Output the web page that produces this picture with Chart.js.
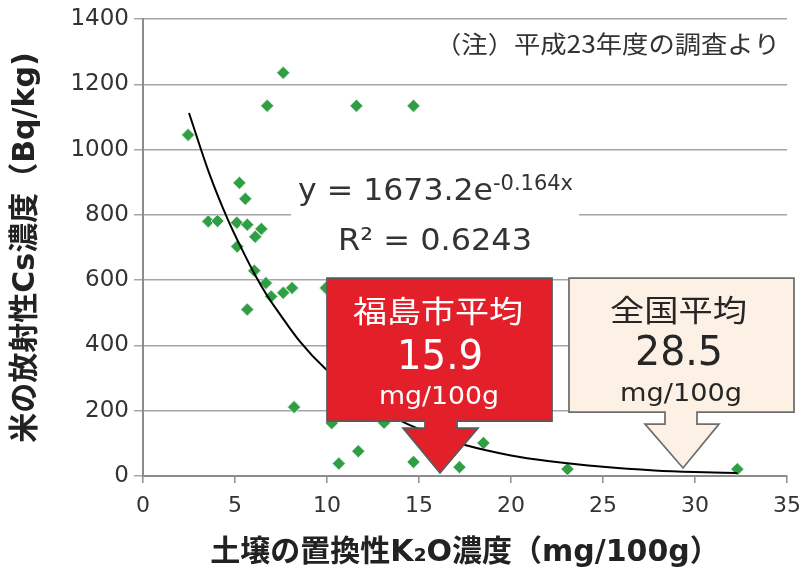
<!DOCTYPE html>
<html>
<head>
<meta charset="utf-8">
<script src="https://cdn.jsdelivr.net/npm/chart.js@4.4.0/dist/chart.umd.min.js"></script>
<style>
  html, body { margin: 0; padding: 0; background: #fff; }
  #wrap { width: 801px; height: 575px; }
</style>
</head>
<body>
<div id="wrap"><canvas id="myChart" width="801" height="575"></canvas></div>
<script>
// data
const potassium = [2.45, 3.55, 4.05, 5.1, 5.67, 5.24, 5.56, 6.1, 6.43, 5.12, 6.05, 6.68, 6.97, 7.62, 8.1,
  5.67, 7.62, 6.75, 11.6, 14.7, 9.94, 8.21, 10.26, 10.64, 11.7, 13.1, 14.7, 17.2, 18.5, 23.07, 32.3];
const cesium = [1045, 780, 781, 776, 770, 898, 849, 733, 757, 703, 629, 591, 550, 561, 576,
  510, 1235, 1134, 1134, 1134, 576, 211, 162, 38, 76, 163, 43, 27, 101, 21, 21];

// trend curve
const trendX = [2.5, 3.6, 4.6, 5.4, 6.1, 6.7, 7.4, 8.5, 9.9, 12, 13.9, 16, 17.5, 20, 22, 25, 27.8, 30, 32.3];
const trendY = [1112, 927, 787, 692, 615, 557, 499, 414, 329, 235, 172, 122, 95, 63, 46, 28, 17, 12, 9];

const xTicks = [0, 5, 10, 15, 20, 25, 30, 35];
const yTicks = [0, 200, 400, 600, 800, 1000, 1200, 1400];

const FONT = '"DejaVu Sans", "Noto Sans CJK JP", sans-serif';
const CJK = '"Noto Sans CJK JP", "DejaVu Sans", sans-serif';

// callout shapes (canvas pixels)
const callouts = [
  { fill: '#e31f2a', stroke: '#5a5a5a', color: '#ffffff',
    box: [327, 278, 552, 421], shaft: [425, 457], head: [403, 478, 428], tip: [440, 473],
    lines: [
      { t: '福島市平均', x0: 353, x1: 523, base: 322, size: 30, font: CJK },
      { t: '15.9', x0: 397, x1: 483, base: 369, size: 40, font: FONT },
      { t: 'mg/100g', x0: 379, x1: 499, base: 404, size: 25, font: FONT }
    ] },
  { fill: '#fdf1e5', stroke: '#6e6e6e', color: '#262626',
    box: [569, 278, 794, 412], shaft: [665, 697], head: [645, 719, 424], tip: [683, 468],
    lines: [
      { t: '全国平均', x0: 610, x1: 747, base: 321, size: 30, font: CJK },
      { t: '28.5', x0: 635, x1: 723, base: 365, size: 40, font: FONT },
      { t: 'mg/100g', x0: 620, x1: 742, base: 401, size: 25, font: FONT }
    ] }
];

function fitText(ctx, txt, x0, x1, base, size, family, color) {
  ctx.save();
  ctx.font = size + 'px ' + family;
  const w = ctx.measureText(txt).width;
  ctx.translate(x0, base);
  ctx.scale((x1 - x0) / w, 1);
  ctx.fillStyle = color;
  ctx.textAlign = 'left';
  ctx.textBaseline = 'alphabetic';
  ctx.fillText(txt, 0, 0);
  ctx.restore();
}

function drawCallout(ctx, c) {
  const [l, t, r, b] = c.box;
  const [sl, sr] = c.shaft;
  const [hl, hr, ht] = c.head;
  ctx.save();
  ctx.beginPath();
  ctx.moveTo(l, t);
  ctx.lineTo(r, t);
  ctx.lineTo(r, b);
  ctx.lineTo(sr, b);
  ctx.lineTo(sr, ht);
  ctx.lineTo(hr, ht);
  ctx.lineTo(c.tip[0], c.tip[1]);
  ctx.lineTo(hl, ht);
  ctx.lineTo(sl, ht);
  ctx.lineTo(sl, b);
  ctx.lineTo(l, b);
  ctx.closePath();
  ctx.fillStyle = c.fill;
  ctx.fill();
  ctx.lineWidth = 1.75;
  ctx.strokeStyle = c.stroke;
  ctx.stroke();
  ctx.restore();
  c.lines.forEach(s => fitText(ctx, s.t, s.x0, s.x1, s.base, s.size, s.font, c.color));
}

const extras = {
  id: 'extras',
  beforeDatasetsDraw(chart) {
    const ctx = chart.ctx;
    // equation label on white
    ctx.save();
    ctx.fillStyle = '#fff';
    ctx.fillRect(291, 165, 288, 97);
    ctx.restore();
    fitText(ctx, 'y = 1673.2e', 298, 493, 200, 31, FONT, '#333');
    fitText(ctx, '-0.164x', 493, 573, 190, 21, FONT, '#333');
    fitText(ctx, 'R² = 0.6243', 338, 532, 250, 31, FONT, '#333');
    fitText(ctx, '（注）平成23年度の調査より', 435, 780, 53, 24, CJK, '#333');
  },
  afterDatasetsDraw(chart) {
    callouts.forEach(c => drawCallout(chart.ctx, c));
  }
};

Chart.defaults.font.family = FONT;
Chart.defaults.color = '#333';

const data = {
  datasets: [
    {
      type: 'line',
      label: 'trend',
      data: trendX.map((x, i) => ({ x: x, y: trendY[i] })),
      borderColor: '#000',
      borderWidth: 2,
      pointRadius: 0,
      cubicInterpolationMode: 'monotone',
      order: 0
    },
    {
      type: 'scatter',
      label: 'samples',
      data: potassium.map((x, i) => ({ x: x, y: cesium[i] })),
      pointStyle: 'rectRot',
      pointRadius: 6.5,
      backgroundColor: '#2f9e44',
      borderColor: 'rgba(220,235,220,0.9)',
      borderWidth: 1,
      order: 1
    }
  ]
};

const config = {
  type: 'scatter',
  data: data,
  plugins: [extras],
  options: {
    responsive: false,
    animation: false,
    layout: { padding: { top: 19, right: 14, left: 0, bottom: 0 } },
    plugins: {
      legend: { display: false },
      tooltip: { enabled: false }
    },
    scales: {
      x: {
        type: 'linear',
        min: 0,
        max: 35,
        afterBuildTicks: s => { s.ticks = xTicks.map(v => ({ value: v })); },
        afterFit: s => { s.height = 99; s.paddingRight = 0; s.paddingLeft = 0; },
        grid: { drawOnChartArea: false, drawTicks: true, tickLength: 7, color: '#8c8c8c', lineWidth: 1.5 },
        border: { color: '#8c8c8c', width: 2 },
        ticks: { font: { size: 22 }, padding: 10, color: '#333', callback: v => String(v) },
        title: {
          display: true,
          text: '土壌の置換性K₂O濃度（mg/100g）',
          font: { size: 30, weight: 'bold' },
          color: '#222',
          padding: { top: 0, bottom: 4 }
        }
      },
      y: {
        type: 'linear',
        min: 0,
        max: 1400,
        afterBuildTicks: s => { s.ticks = yTicks.map(v => ({ value: v })); },
        afterFit: s => { s.width = 143; s.paddingTop = 0; s.paddingBottom = 0; },
        grid: { color: '#a6a6a6', lineWidth: 1.5, tickLength: 9 },
        border: { color: '#8c8c8c', width: 2 },
        ticks: { font: { size: 23 }, padding: 5, color: '#333', callback: v => String(v) },
        title: {
          display: true,
          text: '米の放射性Cs濃度（Bq/kg)',
          font: { size: 30, weight: 'bold' },
          color: '#222',
          padding: { top: 8, bottom: 0 }
        }
      }
    }
  }
};

const myChart = new Chart(document.getElementById('myChart'), config);
</script>
</body>
</html>
